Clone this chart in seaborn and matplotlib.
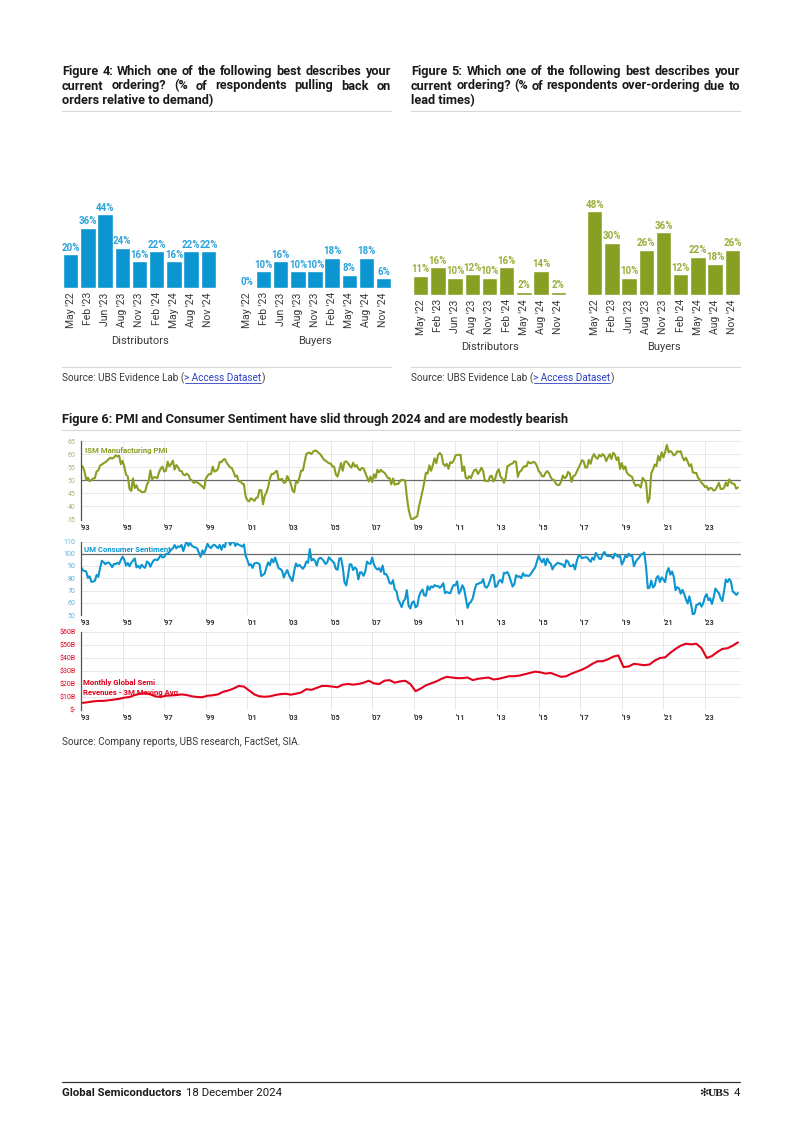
import numpy as np
import pandas as pd
import matplotlib
matplotlib.use("Agg")
import matplotlib.pyplot as plt
from matplotlib import font_manager
from matplotlib.lines import Line2D
import seaborn as sns

# ---------------- data ----------------
survey_dates = ["May '22", "Feb '23", "Jun '23", "Aug '23", "Nov '23",
                "Feb '24", "May '24", "Aug '24", "Nov '24"]
pullback_distributors = [20, 36, 44, 24, 16, 22, 16, 22, 22]
pullback_buyers = [0, 10, 16, 10, 10, 18, 8, 18, 6]
overorder_distributors = [11, 16, 10, 12, 10, 16, 2, 14, 2]
overorder_buyers = [48, 30, 10, 26, 36, 12, 22, 18, 26]

# ISM Manufacturing PMI, monthly Jan-1993 .. Aug-2024
ism_pmi = [
    55.8, 55.2, 53.4, 50.2, 51.0, 49.6, 50.1, 50.7, 50.8, 53.4, 53.8, 55.6,
    56.0, 56.5, 56.9, 57.4, 58.1, 58.6, 58.3, 58.7, 59.5, 59.1, 59.4, 56.1,
    57.4, 55.1, 52.1, 51.5, 46.7, 45.9, 50.7, 47.0, 48.1, 46.3, 46.1, 45.5,
    45.5, 45.7, 48.2, 49.6, 53.8, 50.4, 51.1, 51.2, 50.8, 53.0, 54.5, 55.2,
    53.3, 53.7, 57.1, 55.3, 56.1, 57.5, 54.1, 55.8, 55.0, 53.6, 53.5, 52.2,
    51.9, 52.5, 52.0, 50.4, 49.9, 49.0, 49.3, 49.2, 48.8, 48.2, 47.6, 46.8,
    50.6, 51.7, 52.4, 52.3, 55.2, 53.3, 53.6, 54.3, 57.0, 56.9, 57.8, 58.1,
    56.7, 55.8, 54.9, 54.7, 53.2, 51.4, 51.8, 49.5, 49.7, 48.7, 48.5, 43.7,
    42.3, 41.9, 43.1, 42.7, 42.1, 43.2, 43.5, 46.3, 46.2, 40.8, 44.1, 45.3,
    47.5, 50.7, 52.4, 52.4, 53.1, 53.6, 50.2, 50.3, 50.5, 49.0, 49.2, 51.6,
    50.3, 48.8, 46.1, 45.4, 49.4, 49.0, 51.0, 53.7, 53.7, 57.0, 60.0, 60.5,
    60.5, 60.0, 61.0, 61.4, 61.2, 60.5, 60.0, 59.0, 58.0, 57.5, 57.0, 56.5,
    56.4, 55.3, 55.2, 52.3, 51.4, 53.8, 56.6, 53.6, 57.0, 57.2, 56.5, 55.6,
    54.8, 56.7, 55.2, 55.8, 54.4, 53.8, 54.7, 54.5, 52.9, 51.2, 49.5, 51.4,
    49.3, 52.3, 50.9, 54.0, 53.0, 54.0, 53.3, 52.9, 52.0, 50.9, 50.8, 48.4,
    50.7, 48.3, 48.6, 48.6, 49.6, 50.2, 50.0, 49.9, 43.5, 38.9, 36.2, 34.5,
    35.5, 35.8, 36.3, 40.1, 42.8, 45.8, 49.1, 52.9, 52.6, 55.7, 53.6, 55.9,
    58.4, 56.5, 59.6, 60.4, 59.7, 56.2, 55.5, 56.3, 54.4, 56.9, 56.6, 57.5,
    59.4, 59.7, 59.7, 59.7, 53.5, 55.3, 50.9, 50.6, 51.6, 50.8, 52.7, 53.9,
    54.1, 52.4, 53.4, 54.8, 53.5, 49.7, 49.8, 49.6, 51.5, 51.7, 49.5, 50.7,
    53.1, 54.2, 51.3, 50.7, 49.0, 50.9, 55.4, 55.7, 56.2, 56.4, 57.3, 57.0,
    51.3, 53.2, 53.7, 54.9, 55.4, 55.3, 57.1, 56.5, 56.6, 57.0, 56.7, 55.5,
    53.5, 52.9, 51.5, 51.5, 52.8, 53.5, 52.7, 51.1, 50.2, 50.1, 48.6, 48.2,
    48.2, 49.5, 51.8, 50.8, 51.3, 53.2, 52.6, 49.4, 51.5, 51.9, 53.2, 54.7,
    56.0, 57.7, 57.2, 54.8, 54.9, 57.8, 56.3, 58.8, 60.0, 58.7, 58.2, 59.7,
    59.1, 60.0, 59.3, 57.3, 58.7, 60.0, 58.1, 60.5, 59.8, 57.7, 58.8, 54.3,
    56.6, 54.2, 55.3, 52.8, 52.1, 51.7, 51.2, 49.1, 47.8, 48.3, 48.1, 47.2,
    50.9, 50.1, 49.1, 41.5, 43.1, 52.6, 54.2, 56.0, 55.4, 59.3, 57.5, 60.7,
    58.7, 60.8, 63.5, 60.7, 61.2, 60.6, 59.5, 59.9, 61.1, 60.8, 61.1, 58.8,
    57.6, 58.6, 57.1, 55.4, 56.1, 53.0, 52.8, 52.8, 50.9, 50.2, 49.0, 48.4,
    47.4, 47.7, 46.3, 47.1, 46.9, 46.0, 46.4, 47.6, 49.0, 46.7, 46.7, 47.1,
    49.1, 47.8, 50.3, 49.2, 48.7, 48.5, 46.8, 47.2,
]

# University of Michigan Consumer Sentiment, monthly Jan-1993 .. Aug-2024
um_sentiment = [
    89.3, 86.6, 85.9, 85.6, 80.3, 81.5, 77.0, 77.3, 77.9, 82.7, 81.2, 88.2,
    94.3, 93.2, 91.5, 92.6, 92.8, 91.2, 89.0, 91.7, 91.5, 92.7, 91.6, 95.1,
    97.6, 95.1, 90.3, 92.5, 89.8, 92.7, 94.4, 96.2, 88.9, 90.2, 88.2, 91.0,
    89.3, 88.5, 93.7, 92.7, 89.4, 92.4, 94.7, 95.3, 94.7, 96.5, 99.2, 96.9,
    97.4, 99.7, 100.0, 101.4, 103.2, 104.5, 107.1, 104.4, 106.0, 105.6, 107.2, 102.1,
    106.6, 110.4, 106.5, 108.7, 106.5, 105.6, 105.2, 104.4, 100.9, 97.4, 102.7, 100.5,
    103.9, 108.1, 105.7, 104.6, 106.8, 107.3, 106.0, 104.5, 107.2, 103.2, 107.2, 105.4,
    112.0, 111.3, 107.1, 109.2, 110.7, 106.4, 108.3, 107.3, 106.8, 105.8, 107.6, 98.4,
    94.7, 90.6, 91.5, 88.4, 92.0, 92.6, 92.4, 91.5, 81.8, 82.7, 83.9, 88.8,
    93.0, 90.7, 95.7, 93.0, 96.9, 92.4, 88.1, 87.6, 86.1, 80.6, 84.2, 86.7,
    82.4, 79.9, 77.6, 86.0, 92.1, 89.7, 90.9, 89.3, 87.7, 89.6, 93.7, 92.6,
    103.8, 94.4, 95.8, 94.2, 90.2, 95.6, 96.7, 95.9, 94.2, 91.7, 92.8, 97.1,
    95.5, 94.1, 92.6, 87.7, 86.9, 96.0, 96.5, 89.1, 76.9, 74.2, 81.6, 91.5,
    91.2, 86.7, 88.9, 87.4, 79.1, 84.9, 84.7, 82.0, 85.4, 93.6, 92.1, 91.7,
    96.9, 91.3, 88.4, 87.1, 88.3, 85.3, 90.4, 83.4, 83.4, 80.9, 76.1, 75.5,
    78.4, 70.8, 69.5, 62.6, 59.8, 56.4, 61.2, 63.0, 70.3, 57.6, 55.3, 60.1,
    61.2, 56.3, 57.3, 65.1, 68.7, 70.8, 66.0, 65.7, 73.5, 70.6, 73.4, 72.5,
    74.4, 73.6, 73.6, 72.2, 73.6, 76.0, 67.8, 68.9, 68.2, 67.7, 71.6, 74.5,
    74.2, 77.5, 67.5, 69.8, 74.3, 71.5, 63.7, 55.8, 59.5, 60.8, 63.7, 69.9,
    75.0, 75.3, 76.2, 76.4, 79.3, 73.2, 72.3, 74.3, 78.3, 82.6, 82.7, 72.9,
    73.8, 77.6, 78.6, 76.4, 84.5, 84.1, 85.1, 82.1, 77.5, 73.2, 75.1, 82.5,
    81.2, 81.6, 80.0, 84.1, 81.9, 82.5, 81.8, 82.5, 84.6, 86.9, 88.8, 93.6,
    98.1, 95.4, 93.0, 95.9, 90.7, 96.1, 93.1, 91.9, 87.2, 90.0, 91.3, 92.6,
    92.0, 91.7, 91.0, 89.0, 94.7, 93.5, 90.0, 89.8, 91.2, 87.2, 93.8, 98.2,
    98.5, 96.3, 96.9, 97.0, 97.1, 95.1, 93.4, 96.8, 95.1, 100.7, 98.5, 95.9,
    95.7, 99.7, 101.4, 98.8, 98.0, 98.2, 97.9, 96.2, 100.1, 98.6, 97.5, 98.3,
    91.2, 93.8, 98.4, 97.2, 100.0, 98.2, 98.4, 89.8, 93.2, 95.5, 96.8, 99.3,
    99.8, 101.0, 89.1, 71.8, 72.3, 78.1, 72.5, 74.1, 80.4, 81.8, 76.9, 80.7,
    79.0, 76.8, 84.9, 88.3, 82.9, 85.5, 81.2, 70.3, 72.8, 71.7, 67.4, 70.6,
    67.2, 62.8, 59.4, 65.2, 58.4, 50.0, 51.5, 58.2, 58.6, 59.9, 56.8, 59.7,
    64.9, 67.0, 62.0, 63.7, 59.0, 64.4, 71.6, 69.5, 67.9, 63.8, 61.3, 69.7,
    79.0, 76.9, 79.4, 77.2, 69.1, 68.2, 66.4, 67.9,
]

# Monthly global semi revenues, 3M moving average ($B), quarterly readings 1993Q1 .. 2024Q3
semi_revenue = [
    5.5, 6.0, 6.6, 7.0,
    7.0, 7.5, 8.0, 8.6,
    9.5, 10.0, 11.5, 12.5,
    13.0, 12.0, 10.5, 10.0,
    11.0, 11.2, 11.5, 12.0,
    11.5, 10.5, 10.0, 9.8,
    11.0, 11.3, 12.0, 14.0,
    15.0, 16.5, 18.5, 18.0,
    15.0, 12.0, 10.5, 10.2,
    10.5, 11.5, 12.2, 12.5,
    11.8, 12.5, 13.5, 16.0,
    15.5, 17.0, 18.5, 18.5,
    18.0, 17.5, 19.5, 20.0,
    19.5, 20.0, 21.0, 22.5,
    20.5, 20.0, 22.5, 23.0,
    21.0, 22.0, 22.5, 20.0,
    14.5, 16.5, 19.0, 20.5,
    22.0, 24.0, 25.5, 25.0,
    24.5, 24.5, 25.0, 23.0,
    24.0, 24.5, 25.0, 23.5,
    24.0, 25.0, 26.0, 26.0,
    26.5, 27.5, 28.5, 29.5,
    29.0, 28.0, 28.5, 27.0,
    25.5, 26.0, 28.0, 29.5,
    31.0, 33.0, 35.5, 37.5,
    37.5, 39.0, 41.0, 42.0,
    33.0, 33.5, 35.5, 35.0,
    34.5, 35.0, 38.0, 40.0,
    40.5, 44.0, 47.0, 49.5,
    51.0, 50.5, 51.0, 47.5,
    40.0, 41.5, 44.5, 47.0,
    47.5, 49.5, 52.0,
]

year_ticks = list(range(1993, 2024, 2))
year_labels = ["'" + str(y)[2:] for y in year_ticks]

# ---------------- setup ----------------
W, H = 802, 1134
sns.set_theme(style="white")
names = {f.name for f in font_manager.fontManager.ttflist}
NARROW = "Liberation Sans Narrow" if "Liberation Sans Narrow" in names else "Roboto"
plt.rcParams["font.family"] = [NARROW, "DejaVu Sans"]
plt.rcParams["axes.unicode_minus"] = False

fig = plt.figure(figsize=(W / 100, H / 100), dpi=100)
fig.patch.set_facecolor("white")
R = fig.canvas.get_renderer()

DARK = "#1a1a1a"
TXT = "#3a3a3a"
BLUE = "#0b95d1"
BLUE_L = "#2aa3da"
GREEN = "#87a023"
GREEN_L = "#98ae38"
RED = "#e2001a"


def fx(x):
    return x / W


def fy(y):
    return 1 - y / H


def put(x, y, s, **kw):
    return fig.text(fx(x), fy(y), s, **kw)


def width_of(t):
    return t.get_window_extent(R).width


def hline(x0, x1, y, color="#d6d6d6", lw=0.8):
    fig.add_artist(Line2D([fx(x0), fx(x1)], [fy(y), fy(y)], color=color, lw=lw,
                          transform=fig.transFigure))


# title font size: fit the tightest line into the 329px column
probe = put(0, 0, "current ordering? (% of respondents over-ordering due to",
            fontsize=10, fontweight="bold")
TS = 10 * 329 / width_of(probe)
probe.remove()


def justify(x0, x1, y, s, **kw):
    words = s.split(" ")
    arts = [put(0, y, w, ha="left", va="baseline", **kw) for w in words]
    ws = [width_of(a) for a in arts]
    gap = (x1 - x0 - sum(ws)) / (len(words) - 1)
    x = x0
    for a, w in zip(arts, ws):
        a.set_x(fx(x))
        x += w + gap


def title_block(x0, x1, lines):
    ys = [75, 89.5, 104]
    for i, (ln, y) in enumerate(zip(lines, ys)):
        kw = dict(fontsize=TS, fontweight="bold", color=DARK)
        if i < len(lines) - 1:
            justify(x0, x1, y, ln, **kw)
        else:
            put(x0, y, ln, ha="left", va="baseline", **kw)
    hline(x0, x1, 111)


def bars(left, right, base, pxper, cats, vals, color, lcolor, xlabel, label_y):
    top = base - 50 * pxper
    ax = fig.add_axes([fx(left), fy(base), (right - left) / W, (base - top) / H])
    df = pd.DataFrame({"cat": cats, "val": vals})
    sns.barplot(data=df, x="cat", y="val", color=color, saturation=1, width=0.9, ax=ax)
    ax.set_ylim(0, 50)
    ax.set_xlim(-0.5, len(cats) - 0.5)
    ax.bar_label(ax.containers[0], labels=[f"{v}%" for v in vals], padding=1,
                 color=lcolor, fontsize=7.0, fontweight="bold")
    ax.set_yticks([])
    ax.set_xlabel("")
    ax.set_ylabel("")
    ax.tick_params(axis="x", length=0, pad=3, labelsize=7.5, labelcolor=TXT, rotation=90)
    for s in ax.spines.values():
        s.set_visible(False)
    ax.patch.set_alpha(0)
    put((left + right) / 2, label_y, xlabel, ha="center", va="center", fontsize=8, color=TXT)


def source(x, y):
    kw = dict(fontsize=7.2, color=TXT, va="center", ha="left")
    t1 = put(x, y, "Source: UBS Evidence Lab (", **kw)
    x2 = x + width_of(t1)
    kw2 = dict(kw)
    kw2["color"] = "#2b3fc4"
    t2 = put(x2, y, "> Access Dataset", **kw2)
    w2 = width_of(t2)
    hline(x2 + 0.5, x2 + w2, y + 5, color="#2b3fc4", lw=0.6)
    put(x2 + w2, y, ")", **kw)


# ---------------- Figure 4 ----------------
title_block(62, 391, ["Figure 4: Which one of the following best describes your",
                      "current ordering? (% of respondents pulling back on",
                      "orders relative to demand)"])
bars(62, 217, 288, 1.68, survey_dates, pullback_distributors, BLUE, BLUE_L, "Distributors", 341)
bars(238, 392, 288, 1.68, survey_dates, pullback_buyers, BLUE, BLUE_L, "Buyers", 341)
hline(62, 391, 367)
source(62, 378)

# ---------------- Figure 5 ----------------
title_block(411, 740, ["Figure 5: Which one of the following best describes your",
                       "current ordering? (% of respondents over-ordering due to",
                       "lead times)"])
bars(412, 567, 295, 1.75, survey_dates, overorder_distributors, GREEN, GREEN_L, "Distributors", 347)
bars(586, 741, 295, 1.75, survey_dates, overorder_buyers, GREEN, GREEN_L, "Buyers", 347)
hline(411, 740, 367)
source(411, 378)

# ---------------- Figure 6 ----------------
put(62, 419, "Figure 6: PMI and Consumer Sentiment have slid through 2024 and are modestly bearish",
    fontsize=TS, fontweight="bold", color=DARK, va="center", ha="left")
hline(62, 740, 430)

XL, XR = 81, 741


def panel(top, bottom, ylo, yhi, yticks, ylabels, xs, ys, color, tcolor, ref=None):
    ax = fig.add_axes([fx(XL), fy(bottom), (XR - XL) / W, (bottom - top) / H])
    sns.lineplot(x=xs, y=ys, color=color, lw=1.5, ax=ax, estimator=None, sort=False)
    ax.set_xlim(1993, 1993 + (XR - XL) / 20.8)
    ax.set_ylim(ylo, yhi)
    ax.set_yticks(yticks)
    ax.set_yticklabels(ylabels)
    ax.set_xticks(year_ticks)
    ax.set_xticklabels(year_labels)
    for lab in ax.get_xticklabels():
        lab.set_ha("left")
        lab.set_fontweight("bold")
    ax.tick_params(axis="y", length=0, pad=4, labelsize=5, labelcolor=tcolor)
    ax.tick_params(axis="x", length=0, pad=3, labelsize=5.2, labelcolor="#333333")
    ax.grid(True, color="#e4e4e4", lw=0.6)
    ax.set_axisbelow(True)
    for k in ["top", "right", "bottom"]:
        ax.spines[k].set_visible(False)
    ax.spines["left"].set_color("#555555")
    ax.spines["left"].set_linewidth(0.9)
    if ref is not None:
        ax.axhline(ref, color="#6a6a6a", lw=0.9, zorder=1)
    ax.set_xlabel("")
    ax.set_ylabel("")
    ax.patch.set_alpha(0)
    return ax


months_pmi = 1993 + np.arange(len(ism_pmi)) / 12
months_um = 1993 + np.arange(len(um_sentiment)) / 12
quarters = 1993 + (np.arange(len(semi_revenue)) * 3 + 1) / 12

panel(441, 519.5, 35, 65, list(range(35, 66, 5)), [str(v) for v in range(35, 66, 5)],
      months_pmi, ism_pmi, GREEN, "#aab57c", ref=50)
put(85, 451, "ISM Manufacturing PMI", fontsize=5.6, fontweight="bold", color=GREEN,
    va="center", ha="left")

panel(541.5, 615, 50, 110, list(range(50, 111, 10)), [str(v) for v in range(50, 111, 10)],
      months_um, um_sentiment, BLUE, "#5bb3df", ref=100)
put(84, 550, "UM Consumer Sentiment", fontsize=5.6, fontweight="bold", color=BLUE,
    va="center", ha="left")

panel(632, 710, 0, 60, list(range(0, 61, 10)),
      ["\\$-"] + [f"\\${v}B" for v in range(10, 61, 10)],
      quarters, semi_revenue, RED, RED)
put(83, 683, "Monthly Global Semi", fontsize=5.6, fontweight="bold", color=RED,
    va="center", ha="left")
put(83, 692.5, "Revenues - 3M Moving Avg", fontsize=5.6, fontweight="bold", color=RED,
    va="center", ha="left")

put(62, 742, "Source: Company reports, UBS research, FactSet, SIA.", fontsize=7.2,
    color=TXT, va="center", ha="left")

# ---------------- footer ----------------
hline(62, 740, 1082, color="#333333", lw=0.9)
f1 = put(62, 1093, "Global Semiconductors", fontsize=8.2, fontweight="bold", color=DARK,
         va="center", ha="left")
put(62 + width_of(f1) + 5, 1093, "18 December 2024", fontsize=8.2, color=DARK,
    va="center", ha="left")
put(740, 1093, "4", fontsize=8.2, color=DARK, va="center", ha="right")
put(730, 1093, "UBS", fontsize=8.2, fontweight="bold", color=DARK, va="center", ha="right",
    family=["Liberation Serif", "DejaVu Serif"])
put(708, 1093, "\u273B", fontsize=8, color=DARK, va="center", ha="right", family=["DejaVu Sans"])

fig.savefig("out.png", dpi=100, facecolor="white")
